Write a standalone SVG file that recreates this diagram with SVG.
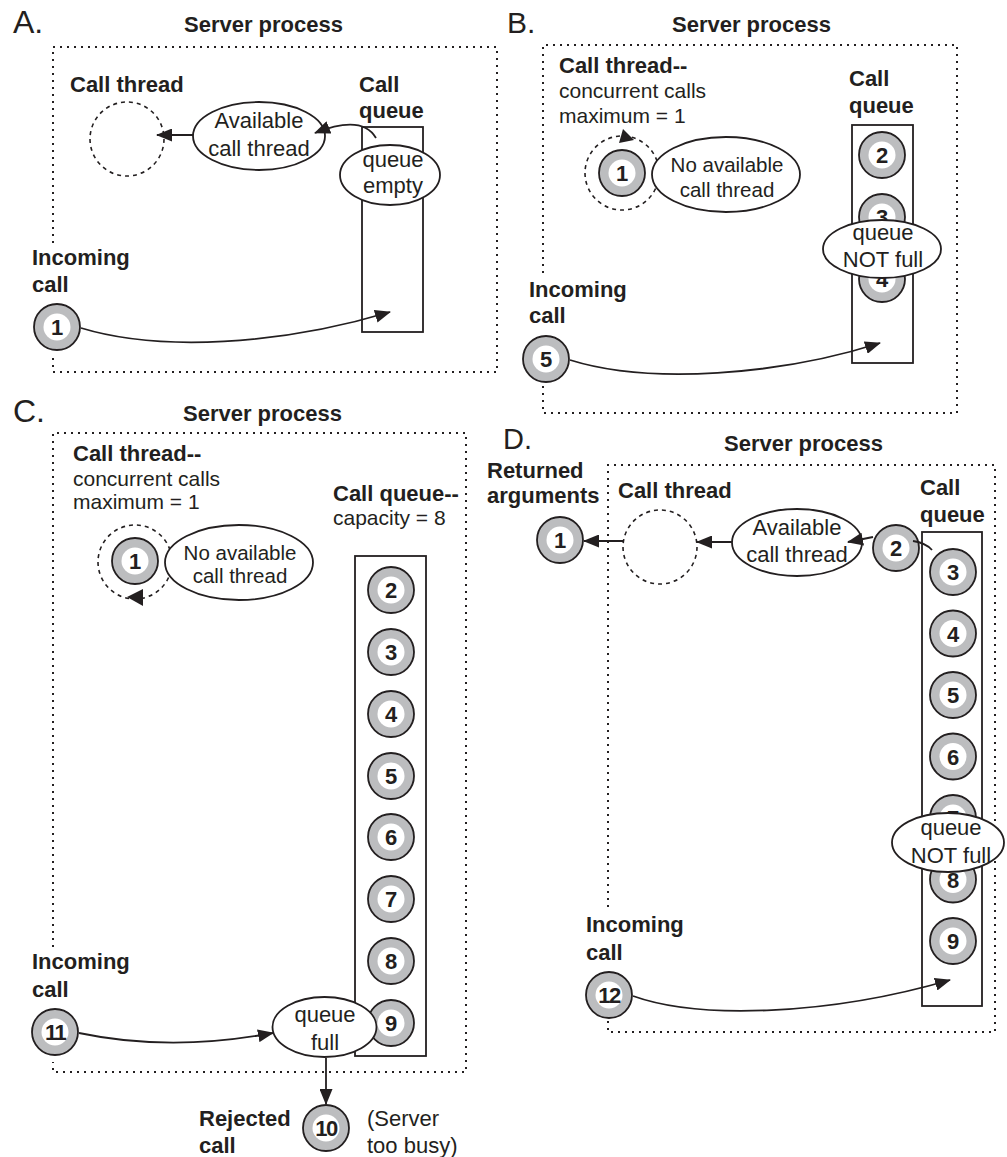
<svg xmlns="http://www.w3.org/2000/svg" width="1007" height="1157" viewBox="0 0 1007 1157">
<defs>
<style>
text{font-family:"Liberation Sans",Arial,sans-serif;fill:#231f20}
.t{font-size:22px;font-weight:bold}
.r{font-size:21px}
.e{font-size:22px;text-anchor:middle}
.e2{font-size:20.5px;text-anchor:middle}
.n{font-size:22px;font-weight:bold;text-anchor:middle}
.lt{font-weight:normal}
.box{fill:none;stroke:#231f20;stroke-width:2;stroke-dasharray:2 5}
.q{fill:none;stroke:#231f20;stroke-width:1.8}
.el{fill:#fff;stroke:#231f20;stroke-width:1.8}
.dc{fill:none;stroke:#231f20;stroke-width:1.6;stroke-dasharray:4 4}
.ar{fill:none;stroke:#231f20;stroke-width:1.8}
.ah{fill:#231f20}
</style>
<marker id="m" markerUnits="userSpaceOnUse" markerWidth="16" markerHeight="13" refX="15" refY="6.5" orient="auto" viewBox="0 0 16 13">
<path d="M0,0 L16,6.5 L0,13 z" fill="#231f20"/>
</marker>
<g id="ball">
<circle r="23" fill="#bcbdbf" stroke="#231f20" stroke-width="1.8"/>
<circle r="13.5" fill="#fff"/>
</g>
</defs>
<rect width="1007" height="1157" fill="#fff"/>

<!-- Panel A -->
<g id="panelA">
<text x="13" y="33" style="font-size:32px">A.</text>
<text class="t" x="184" y="32">Server process</text>
<path class="box" d="M53,243 V47 H497 V372 H53 V355"/>
<text class="t" x="70" y="92">Call thread</text>
<text class="t" x="359" y="92">Call</text>
<text class="t" x="359" y="118">queue</text>
<circle id="A-thread" class="dc" cx="127" cy="139" r="37"/>
<rect id="A-queue" class="q" x="362" y="127" width="61" height="205"/>
<g id="A-avail"><ellipse class="el" cx="259" cy="136" rx="66" ry="34"/>
<text class="e" x="259" y="128">Available</text><text class="e" x="259" y="156">call thread</text></g>
<g id="A-empty"><ellipse class="el" cx="390" cy="175" rx="50" ry="30"/>
<text class="e" x="393" y="167">queue</text><text class="e" x="393" y="193">empty</text></g>
<text class="t" x="32" y="265">Incoming</text>
<text class="t" x="32" y="292">call</text>
<g id="A-c1" transform="translate(57,327)"><use href="#ball"/><text class="n" y="8">1</text></g>
</g>

<!-- Panel B -->
<g id="panelB">
<text x="507" y="33" style="font-size:30px">B.</text>
<text class="t" x="672" y="32">Server process</text>
<path class="box" d="M543,273 V45 H957 V413 H543 V383"/>
<text class="t" x="559" y="73">Call thread--</text>
<text class="r" x="559" y="98">concurrent calls</text>
<text class="r" x="559" y="123">maximum = 1</text>
<text class="t" x="849" y="86">Call</text>
<text class="t" x="849" y="113">queue</text>
<rect id="B-queue" class="q" x="852" y="125" width="61" height="238"/>
<circle id="B-thread" class="dc" cx="622" cy="173" r="37"/>
<g id="B-c1" transform="translate(622,173)"><use href="#ball"/><text class="n" y="8">1</text></g>
<g id="B-noavail"><ellipse class="el" cx="726" cy="174.5" rx="74" ry="37.5"/>
<text class="e2" x="727" y="172">No available</text><text class="e2" x="727" y="197">call thread</text></g>
<g id="B-c2" transform="translate(882,155)"><use href="#ball"/><text class="n" y="8">2</text></g>
<g id="B-c3" transform="translate(882,217)"><use href="#ball"/><text class="n" y="8">3</text></g>
<g id="B-c4" transform="translate(882,279)"><use href="#ball"/><text class="n" y="8">4</text></g>
<g id="B-notfull"><ellipse class="el" cx="882" cy="249" rx="59" ry="29"/>
<text class="e" x="883" y="240">queue</text><text class="e" x="883" y="267">NOT full</text></g>
<text class="t" x="529" y="297">Incoming</text>
<text class="t" x="529" y="323">call</text>
<g id="B-c5" transform="translate(546,359)"><use href="#ball"/><text class="n" y="8">5</text></g>
</g>

<!-- Panel C -->
<g id="panelC">
<text x="13" y="422" style="font-size:32px">C.</text>
<text class="t" x="183" y="421">Server process</text>
<path class="box" d="M53,947 V433 H466 V1072 H53 V1062"/>
<text class="t" x="73" y="461">Call thread--</text>
<text class="r" x="73" y="486">concurrent calls</text>
<text class="r" x="73" y="509">maximum = 1</text>
<text class="t" x="333" y="501">Call queue--</text>
<text class="r" x="333" y="525">capacity = 8</text>
<circle id="C-thread" class="dc" cx="135" cy="562" r="37"/>
<g id="C-c1" transform="translate(135,561)"><use href="#ball"/><text class="n" y="8">1</text></g>
<g id="C-noavail"><ellipse class="el" cx="239" cy="562.5" rx="74" ry="37.5"/>
<text class="e2" x="240" y="560">No available</text><text class="e2" x="240" y="583">call thread</text></g>
<rect id="C-queue" class="q" x="355" y="556" width="71" height="500"/>
<g id="C-c2" transform="translate(391,590)"><use href="#ball"/><text class="n" y="8">2</text></g>
<g id="C-c3" transform="translate(391,652)"><use href="#ball"/><text class="n" y="8">3</text></g>
<g id="C-c4" transform="translate(391,714)"><use href="#ball"/><text class="n" y="8">4</text></g>
<g id="C-c5" transform="translate(391,776)"><use href="#ball"/><text class="n" y="8">5</text></g>
<g id="C-c6" transform="translate(391,837)"><use href="#ball"/><text class="n" y="8">6</text></g>
<g id="C-c7" transform="translate(391,899)"><use href="#ball"/><text class="n" y="8">7</text></g>
<g id="C-c8" transform="translate(391,961)"><use href="#ball"/><text class="n" y="8">8</text></g>
<g id="C-c9" transform="translate(391,1023)"><use href="#ball"/><text class="n" y="8">9</text></g>
<g id="C-full"><ellipse class="el" cx="324.5" cy="1027" rx="52" ry="30"/>
<text class="e" x="325" y="1022">queue</text><text class="e" x="325" y="1050">full</text></g>
<text class="t" x="32" y="969">Incoming</text>
<text class="t" x="32" y="997">call</text>
<g id="C-c11" transform="translate(55,1032)"><use href="#ball"/><text class="n" y="8" style="letter-spacing:-1.5px">11</text></g>
<g id="C-c10" transform="translate(326,1128)"><use href="#ball"/><text class="n" y="8" style="letter-spacing:-1.5px">10</text></g>
<text class="t" x="199" y="1126">Rejected</text>
<text class="t" x="199" y="1153">call</text>
<text class="t lt" x="367" y="1126">(Server</text>
<text class="t lt" x="367" y="1153">too busy)</text>
</g>

<!-- Panel D -->
<g id="panelD">
<text x="503" y="449" style="font-size:29px">D.</text>
<text class="t" x="724" y="451">Server process</text>
<path class="box" d="M608,907 V465 H995 V1032 H608 V1020"/>
<text class="t" x="487" y="478">Returned</text>
<text class="t" x="487" y="503">arguments</text>
<text class="t" x="618" y="498">Call thread</text>
<text class="t" x="920" y="495">Call</text>
<text class="t" x="920" y="522">queue</text>
<g id="D-c1" transform="translate(560,540)"><use href="#ball"/><text class="n" y="8">1</text></g>
<circle id="D-thread" class="dc" cx="660" cy="547" r="37"/>
<g id="D-avail"><ellipse class="el" cx="797" cy="542.5" rx="65" ry="33.5"/>
<text class="e" x="797" y="535">Available</text><text class="e" x="797" y="562">call thread</text></g>
<g id="D-c2" transform="translate(896,548)"><use href="#ball"/><text class="n" y="8">2</text></g>
<rect id="D-queue" class="q" x="922" y="532" width="60" height="474"/>
<g id="D-c3" transform="translate(953,572)"><use href="#ball"/><text class="n" y="8">3</text></g>
<g id="D-c4" transform="translate(953,633.5)"><use href="#ball"/><text class="n" y="8">4</text></g>
<g id="D-c5" transform="translate(953,695)"><use href="#ball"/><text class="n" y="8">5</text></g>
<g id="D-c6" transform="translate(953,756.5)"><use href="#ball"/><text class="n" y="8">6</text></g>
<g id="D-c7" transform="translate(953,818)"><use href="#ball"/><text class="n" y="8">7</text></g>
<g id="D-c8" transform="translate(953,879.5)"><use href="#ball"/><text class="n" y="8">8</text></g>
<g id="D-notfull"><ellipse class="el" cx="948" cy="842.5" rx="56" ry="29.5"/>
<text class="e" x="951" y="835">queue</text><text class="e" x="951" y="863">NOT full</text></g>
<g id="D-c9" transform="translate(953,941)"><use href="#ball"/><text class="n" y="8">9</text></g>
<text class="t" x="586" y="932">Incoming</text>
<text class="t" x="586" y="960">call</text>
<g id="D-c12" transform="translate(609,995)"><use href="#ball"/><text class="n" y="8" style="letter-spacing:-1.5px">12</text></g>
</g>

<!-- Connectors -->
<g id="connectors">
<line class="ar" x1="193" y1="135" x2="157" y2="135" marker-end="url(#m)"/>
<path class="ar" d="M376,138 Q362,114 315,133" marker-end="url(#m)"/>
<path class="ar" d="M81,328 C160,352 280,345 390,312" marker-end="url(#m)"/>
<polygon class="ah" points="623,129 634,140 619,143"/>
<path class="ar" d="M570,360 C650,385 780,375 880,343" marker-end="url(#m)"/>
<polygon class="ah" points="143,589 127,597 143,606"/>
<path class="ar" d="M79,1033 C150,1048 220,1043 273,1033" marker-end="url(#m)"/>
<line class="ar" x1="326" y1="1058" x2="326" y2="1104" marker-end="url(#m)"/>
<line class="ar" x1="624" y1="541" x2="584" y2="541" marker-end="url(#m)"/>
<line class="ar" x1="732" y1="542" x2="697" y2="542" marker-end="url(#m)"/>
<line class="ar" x1="873" y1="537" x2="848" y2="542" marker-end="url(#m)"/>
<path class="ar" d="M913,541 Q926,543 932,550"/>
<path class="ar" d="M633,996 C700,1020 830,1015 950,980" marker-end="url(#m)"/>
</g>
</svg>
